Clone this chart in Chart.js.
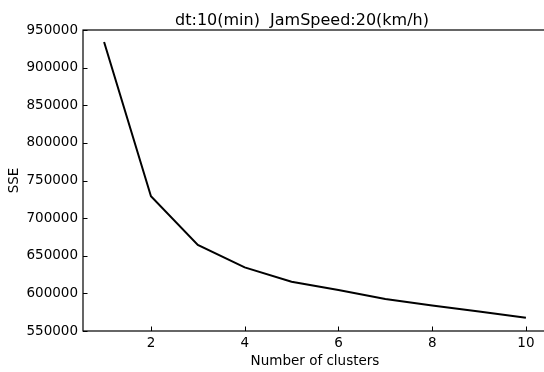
<!DOCTYPE html>
<html>
<head>
<meta charset="utf-8">
<script src="https://cdn.jsdelivr.net/npm/chart.js@4.4.1/dist/chart.umd.min.js"></script>
<style>
  html, body { margin: 0; padding: 0; overflow: hidden; background: #fff; }
  #wrap { position: absolute; left: 0; top: 0; width: 550px; height: 372px; }
</style>
</head>
<body>
<div id="wrap"><canvas id="chart" width="550" height="372"></canvas></div>
<script>
// data
const clusters = [1, 2, 3, 4, 5, 6, 7, 8, 9, 10];
const sse = [934000, 729000, 664500, 634500, 615500, 604500, 592500, 584000, 576000, 567500];
const xTicks = [2, 4, 6, 8, 10];
const yTicks = [550000, 600000, 650000, 700000, 750000, 800000, 850000, 900000, 950000];
const chartTitle = 'dt:10(min)  JamSpeed:20(km/h)';

const FONT = "'DejaVu Sans', sans-serif";

// spines, inward ticks and the title (matplotlib look)
const framePlugin = {
    id: 'frame',
    afterDraw(chart) {
        const ctx = chart.ctx;
        const a = chart.chartArea;
        const xs = chart.scales.x;
        const ys = chart.scales.y;
        ctx.save();
        ctx.strokeStyle = '#000';
        ctx.lineWidth = 1.2;
        ctx.strokeRect(a.left, a.top, a.right - a.left, a.bottom - a.top);

        ctx.lineWidth = 1;
        ctx.beginPath();
        xTicks.forEach(v => {
            const px = Math.round(xs.getPixelForValue(v)) + 0.5;
            ctx.moveTo(px, a.bottom);
            ctx.lineTo(px, a.bottom - 4.5);
        });
        yTicks.forEach(v => {
            const py = Math.round(ys.getPixelForValue(v)) + 0.5;
            ctx.moveTo(a.left, py);
            ctx.lineTo(a.left + 4.5, py);
        });
        ctx.stroke();

        ctx.fillStyle = '#000';
        ctx.font = '16px ' + FONT;
        ctx.textAlign = 'center';
        ctx.textBaseline = 'alphabetic';
        ctx.fillText(chartTitle, 302, 25);
        ctx.restore();
    }
};

new Chart(document.getElementById('chart'), {
    type: 'line',
    data: {
        datasets: [{
            data: clusters.map((c, i) => ({ x: c, y: sse[i] })),
            borderColor: '#000',
            borderWidth: 2,
            pointRadius: 0,
            tension: 0,
            fill: false
        }]
    },
    options: {
        responsive: false,
        animation: false,
        devicePixelRatio: 1,
        layout: { padding: { left: 0, top: 30, right: 3, bottom: 0 } },
        plugins: {
            legend: { display: false },
            tooltip: { enabled: false }
        },
        scales: {
            x: {
                type: 'linear',
                min: 0.55,
                max: 10.45,
                afterBuildTicks: s => { s.ticks = xTicks.map(v => ({ value: v })); },
                afterFit: s => { s.height = 41; },
                grid: { display: false, drawTicks: false },
                border: { display: false },
                ticks: { color: '#000', font: { family: FONT, size: 13.5 }, padding: 4, maxRotation: 0 },
                title: {
                    display: true,
                    text: 'Number of clusters',
                    color: '#000',
                    font: { family: FONT, size: 13.5 },
                    padding: { top: 0, bottom: 2 }
                }
            },
            y: {
                min: 550000,
                max: 950000,
                afterBuildTicks: s => { s.ticks = yTicks.map(v => ({ value: v })); },
                afterFit: s => { s.width = 83; },
                grid: { display: false, drawTicks: false },
                border: { display: false },
                ticks: { color: '#000', font: { family: FONT, size: 13.5 }, padding: 5, callback: v => String(v) },
                title: {
                    display: true,
                    text: 'SSE',
                    color: '#000',
                    font: { family: FONT, size: 13.5 },
                    padding: { top: 6, bottom: 0 }
                }
            }
        }
    },
    plugins: [framePlugin]
});
</script>
</body>
</html>
